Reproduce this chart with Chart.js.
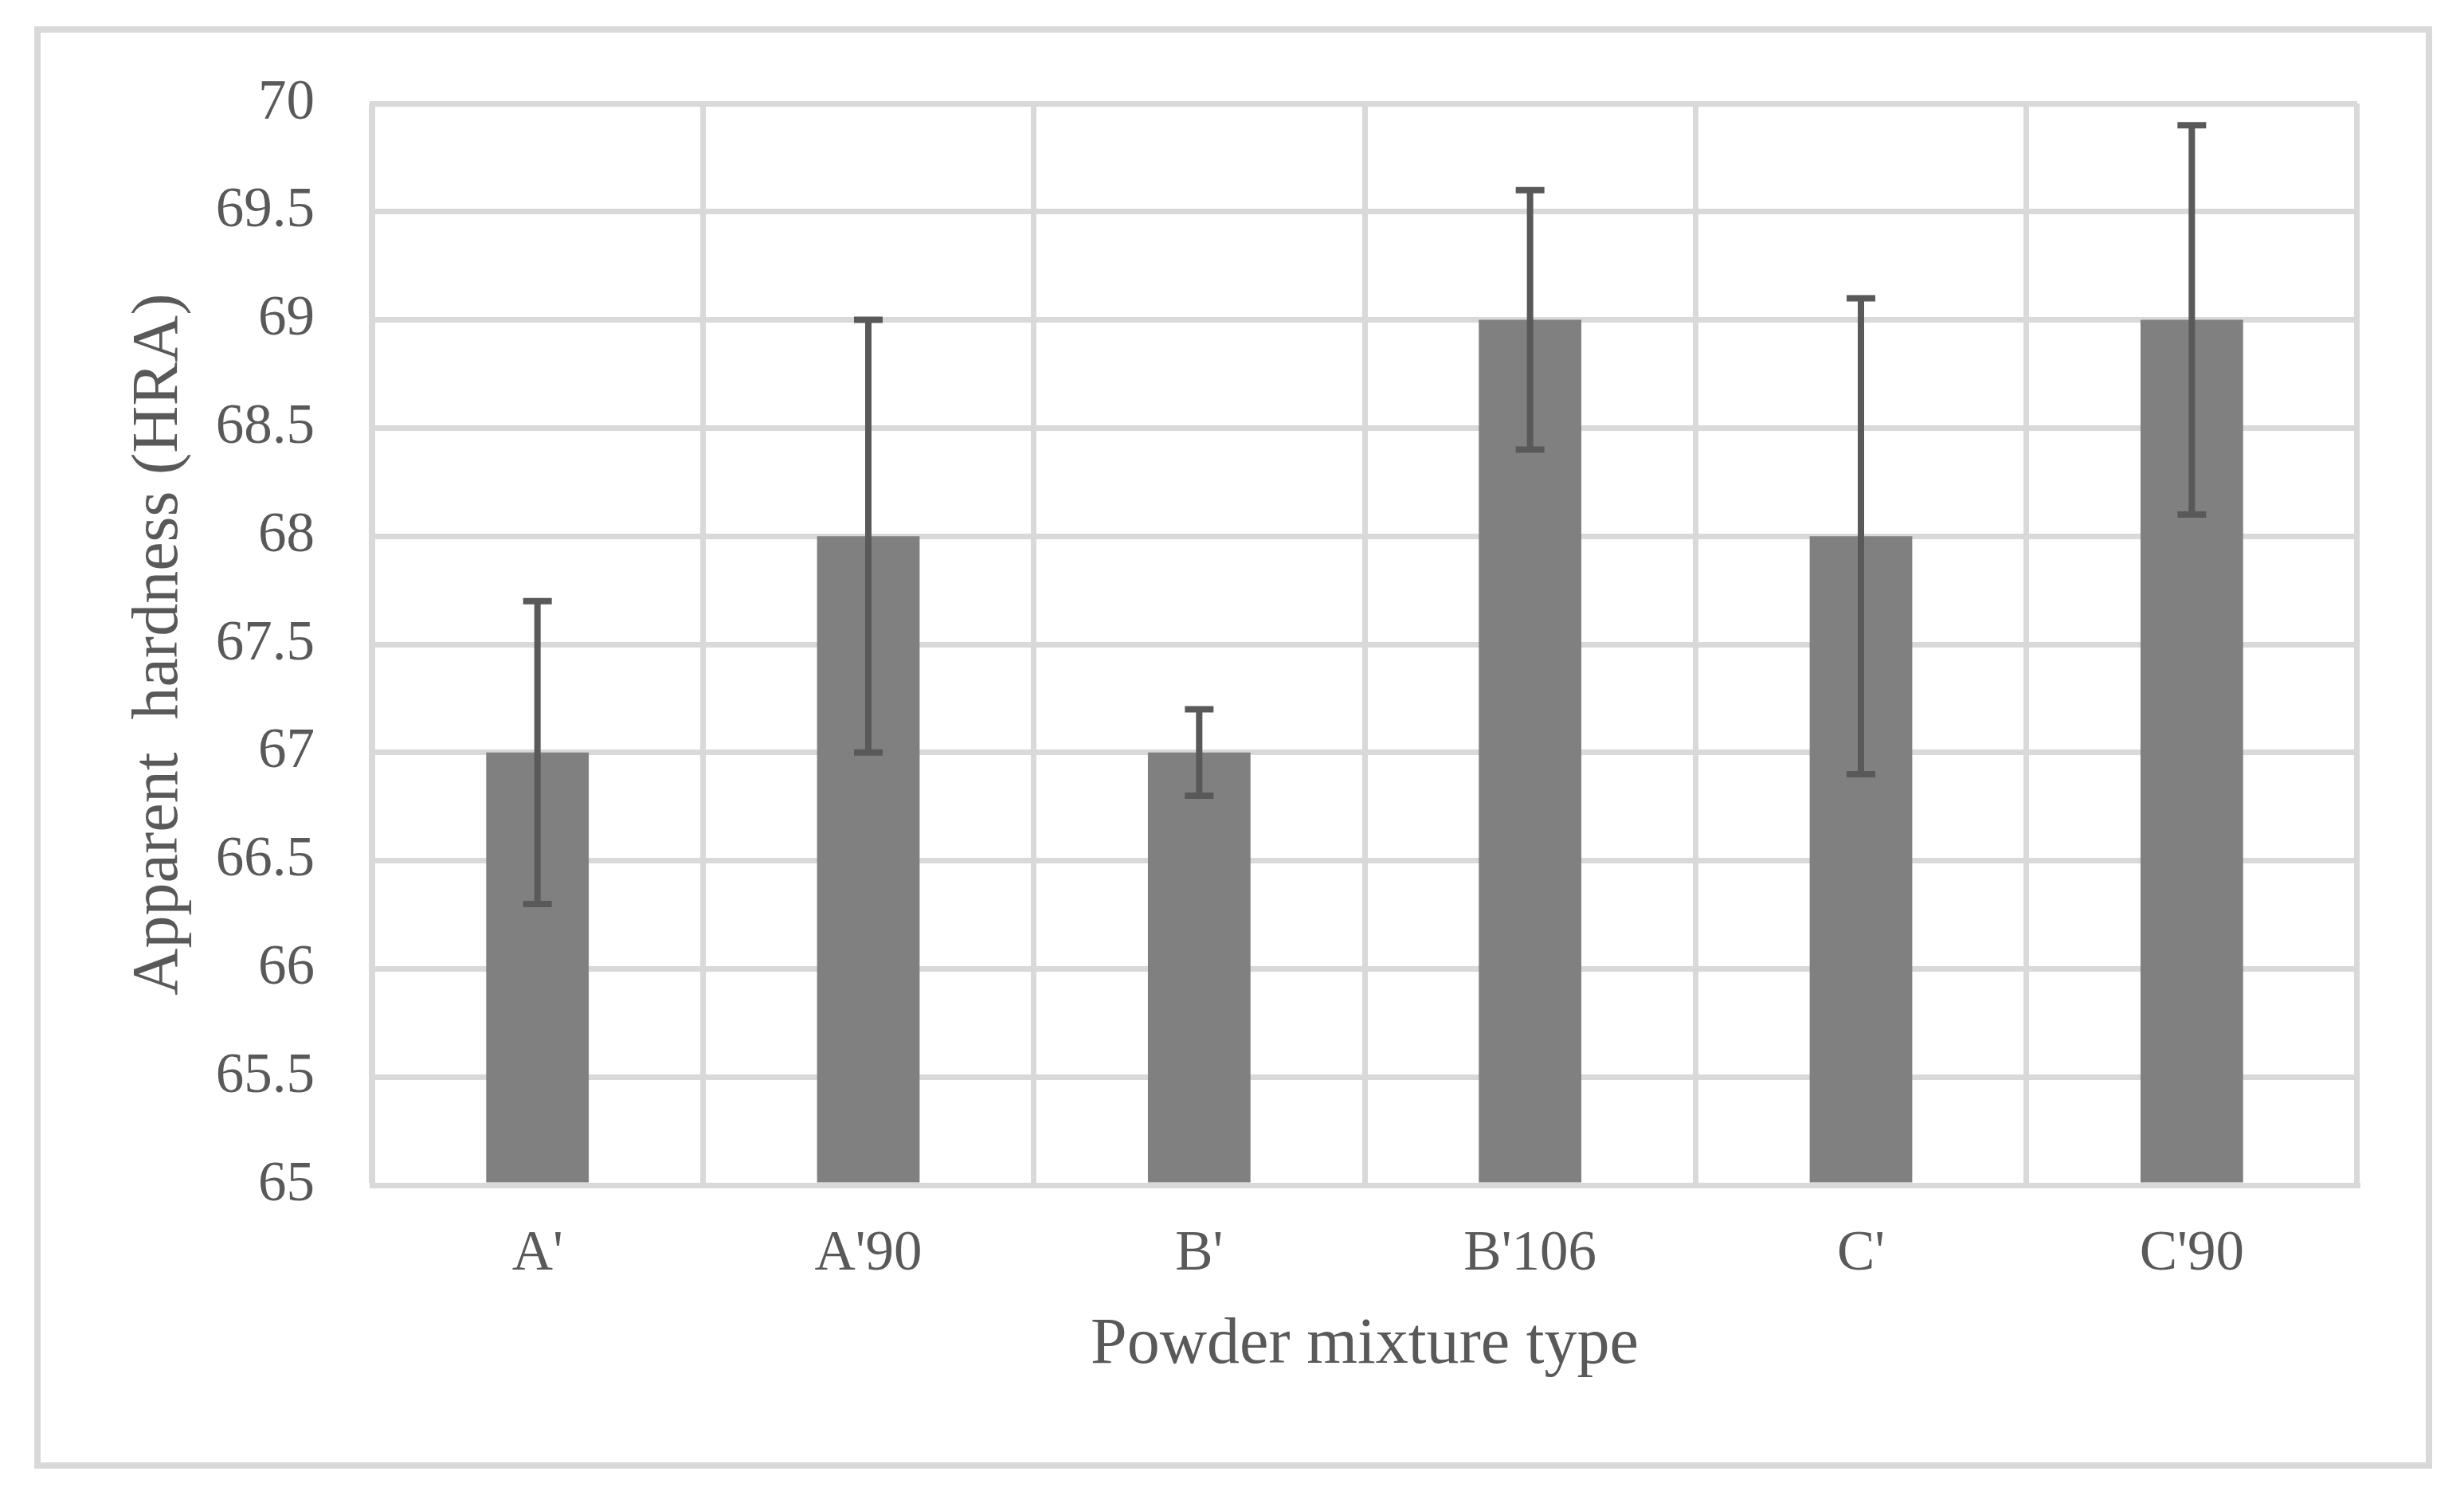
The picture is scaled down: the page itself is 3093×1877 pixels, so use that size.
<!DOCTYPE html>
<html>
<head>
<meta charset="utf-8">
<script src="https://cdn.jsdelivr.net/npm/chart.js@4/dist/chart.umd.min.js"></script>
<style>
  html, body { margin: 0; padding: 0; background: #ffffff; overflow: hidden; }
  #frame {
    position: absolute; left: 43px; top: 33px;
    width: 3010px; height: 1811px;
    box-sizing: border-box; border: 8px solid #d9d9d9;
  }
  #hardnessPlot { position: absolute; left: 0; top: 0; }
</style>
</head>
<body>
<div id="frame"></div>
<canvas id="hardnessPlot" width="3093" height="1877"></canvas>
<script>
// powder mixtures and their measured hardness (HRA)
const mixtures = ["A'", "A'90", "B'", "B'106", "C'", "C'90"];
const hardness = [67, 68, 67, 69, 68, 69];
// error bar extents
const err_plus = [0.7, 1.0, 0.2, 0.6, 1.1, 0.9];
const err_minus = [0.7, 1.0, 0.2, 0.6, 1.1, 0.9];

const color_bar = '#808080';
const color_err = '#595959';
const color_grid = '#d9d9d9';
const color_text = '#595959';
const font_family = '"Liberation Serif", "Times New Roman", serif';

// draws the error bars using the y scale of the chart
const errorBars = {
    id: 'errorBars',
    afterDatasetsDraw(chart) {
        const ctx = chart.ctx;
        const meta = chart.getDatasetMeta(0);
        const yScale = chart.scales.y;
        const capHalf = 18;
        ctx.save();
        ctx.strokeStyle = color_err;
        ctx.lineWidth = 8;
        ctx.lineCap = 'butt';
        meta.data.forEach((bar, i) => {
            const x = bar.x;
            const yHi = yScale.getPixelForValue(hardness[i] + err_plus[i]);
            const yLo = yScale.getPixelForValue(hardness[i] - err_minus[i]);
            ctx.beginPath();
            ctx.moveTo(x, yHi);
            ctx.lineTo(x, yLo);
            ctx.moveTo(x - capHalf, yHi);
            ctx.lineTo(x + capHalf, yHi);
            ctx.moveTo(x - capHalf, yLo);
            ctx.lineTo(x + capHalf, yLo);
            ctx.stroke();
        });
        ctx.restore();
    }
};

const config = {
    type: 'bar',
    data: {
        labels: mixtures,
        datasets: [{
            label: 'Apparent hardness',
            data: hardness,
            backgroundColor: color_bar,
            borderWidth: 0,
            base: 65,
            categoryPercentage: 1.0,
            barPercentage: 0.31,
        }]
    },
    options: {
        responsive: false,
        animation: false,
        layout: {
            padding: { top: 130, right: 134, bottom: 138, left: 100 }
        },
        plugins: {
            legend: { display: false },
            tooltip: { enabled: false }
        },
        scales: {
            x: {
                grid: {
                    color: color_grid,
                    lineWidth: 7,
                    drawTicks: false,
                    offset: true,
                },
                border: { color: color_grid, width: 7 },
                ticks: {
                    color: color_text,
                    padding: 45,
                    maxRotation: 0,
                    font: { family: font_family, size: 71 }
                },
                title: {
                    display: true,
                    text: 'Powder mixture type',
                    color: color_text,
                    padding: { top: 0, bottom: 0 },
                    font: { family: font_family, size: 82, lineHeight: 1.2 }
                },
                afterFit(scale) { scale.height = 251; }
            },
            y: {
                min: 65,
                max: 70,
                grid: {
                    color: color_grid,
                    lineWidth: 7,
                    drawTicks: false,
                },
                border: { color: color_grid, width: 7 },
                ticks: {
                    stepSize: 0.5,
                    color: color_text,
                    padding: 72,
                    font: { family: font_family, size: 71 },
                    // 70, 69.5, 69 ... without trailing zeros
                    callback: function (value) {
                        return String(Number(value));
                    }
                },
                title: {
                    display: true,
                    text: 'Apparent  hardness (HRA)',
                    color: color_text,
                    padding: { top: 51, bottom: 0 },
                    font: { family: font_family, size: 82, lineHeight: 1.2 }
                },
                afterFit(scale) { scale.width = 367; }
            }
        }
    },
    plugins: [errorBars]
};

const ctx = document.getElementById('hardnessPlot').getContext('2d');
new Chart(ctx, config);
</script>
</body>
</html>
